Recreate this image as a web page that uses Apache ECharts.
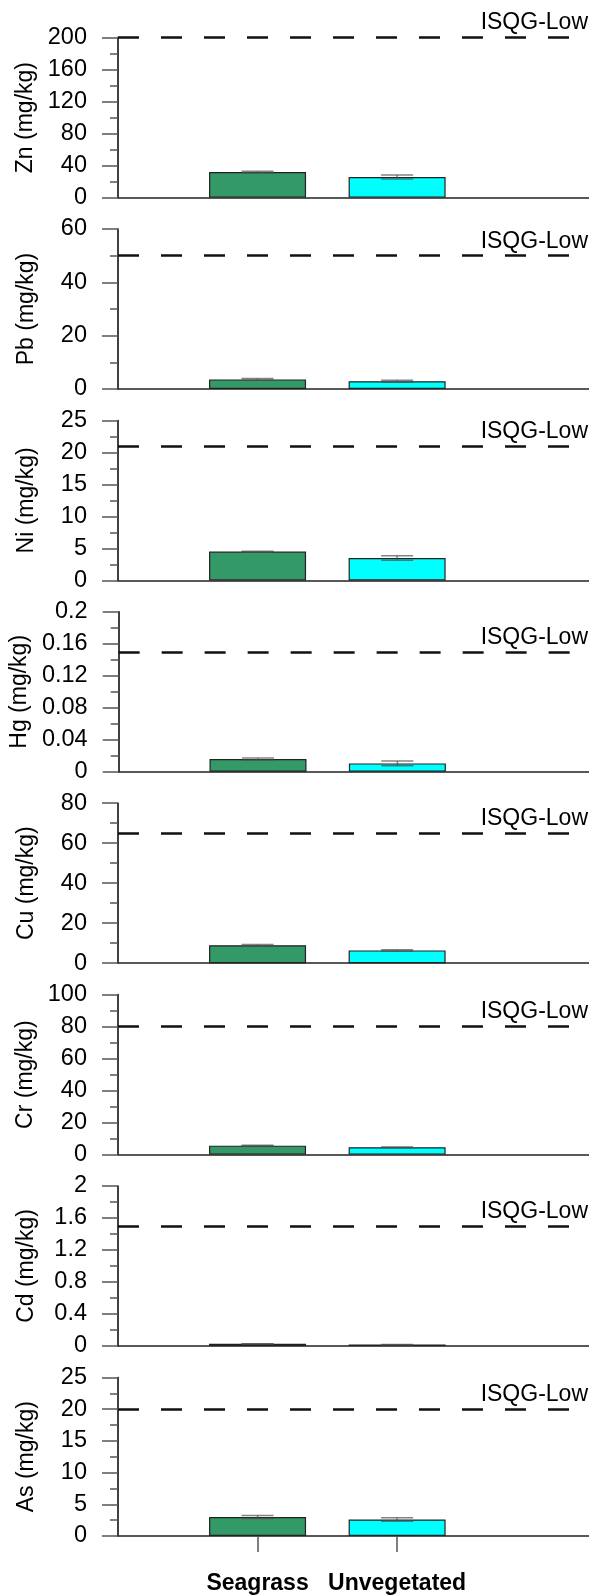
<!DOCTYPE html>
<html>
<head>
<meta charset="utf-8">
<script src="https://cdn.jsdelivr.net/npm/echarts@6/dist/echarts.min.js"></script>
<style>
  html, body { margin: 0; padding: 0; background: #fff; }
  #chart { width: 589px; height: 1595px; }
</style>
</head>
<body>
<div id="chart"></div>
<script>
// heavy metal concentrations, one panel per metal
var metals = ['Zn', 'Pb', 'Ni', 'Hg', 'Cu', 'Cr', 'Cd', 'As'];
var categories = ['Seagrass', 'Unvegetated'];
var seagrass = [32, 3.6, 4.5, 0.016, 9, 5.6, 0.027, 3.0];
var unvegetated = [25.7, 2.9, 3.5, 0.0105, 6.4, 4.6, 0.018, 2.6];
var seagrassErr = [0.8, 0.35, 0.05, 0.0012, 0.3, 0.2, 0.002, 0.25];
var unvegetatedErr = [2.4, 0.35, 0.36, 0.003, 0.3, 0.2, 0.002, 0.27];
var isqgLow = [200, 50, 21, 0.15, 65, 80, 1.5, 20];
var axisMax = [200, 60, 25, 0.2, 80, 100, 2, 25];
var axisStep = [40, 20, 5, 0.04, 20, 20, 0.4, 5];

var barColors = ['#339966', '#00ffff'];
var font = "'Liberation Sans', Arial, sans-serif";
var tickStyle = { color: '#555', width: 1.5 };

var chart = echarts.init(document.getElementById('chart'));

var grids = [], xAxes = [], yAxes = [], series = [];
metals.forEach(function (m, i) {
    var last = i === metals.length - 1;
    grids.push({ left: 118, right: 0, top: 37.6 + i * 191.4, height: 160 });
    xAxes.push({
        gridIndex: i,
        type: 'value',
        min: 0,
        max: 3.375,
        splitLine: { show: false },
        axisLine: { show: true, onZero: false, lineStyle: { color: '#222', width: 1.5 } },
        axisTick: { show: last, customValues: [1, 2], length: 16, lineStyle: tickStyle },
        axisLabel: {
            show: last,
            customValues: [1, 2],
            formatter: function (v) { return categories[Math.round(v) - 1]; },
            margin: 36,
            color: '#000',
            fontFamily: font,
            fontSize: 23,
            fontWeight: 'bold'
        }
    });
    yAxes.push({
        gridIndex: i,
        type: 'value',
        min: 0,
        max: axisMax[i],
        interval: axisStep[i],
        name: m + ' (mg/kg)',
        nameLocation: 'middle',
        nameGap: 80,
        nameTextStyle: { fontFamily: font, fontSize: 23, color: '#000' },
        axisLine: { show: true, lineStyle: { color: '#000', width: 1.5 } },
        axisTick: { show: true, length: 16, lineStyle: tickStyle },
        minorTick: { show: true, splitNumber: 2, length: 8, lineStyle: tickStyle },
        splitLine: { show: false },
        axisLabel: { margin: 31, color: '#000', fontFamily: font, fontSize: 23.5 }
    });
    series.push({
        type: 'bar',
        xAxisIndex: i,
        yAxisIndex: i,
        barWidth: 97,
        silent: true,
        itemStyle: { borderColor: '#222', borderWidth: 1.2 },
        data: [
            { value: [1, seagrass[i]], itemStyle: { color: barColors[0] } },
            { value: [2, unvegetated[i]], itemStyle: { color: barColors[1] } }
        ],
        markLine: {
            silent: true,
            symbol: 'none',
            lineStyle: { color: '#111', width: 2.5, type: [21, 22] },
            label: {
                show: true,
                position: 'insideEndTop',
                formatter: 'ISQG-Low',
                distance: [1, 3],
                color: '#000',
                fontFamily: font,
                fontSize: 23
            },
            data: [{ yAxis: isqgLow[i] }]
        }
    });
    series.push({
        type: 'custom',
        xAxisIndex: i,
        yAxisIndex: i,
        silent: true,
        z: 5,
        data: [[1, seagrass[i], seagrassErr[i]], [2, unvegetated[i], unvegetatedErr[i]]],
        renderItem: function (params, api) {
            var x = api.value(0), y = api.value(1), e = api.value(2);
            var hi = api.coord([x, y + e]);
            var lo = api.coord([x, y - e]);
            var w = 16;
            var st = { stroke: 'rgba(80,80,80,0.7)', lineWidth: 1.5 };
            return {
                type: 'group',
                children: [
                    { type: 'line', shape: { x1: hi[0], y1: hi[1], x2: lo[0], y2: lo[1] }, style: st },
                    { type: 'line', shape: { x1: hi[0] - w, y1: hi[1], x2: hi[0] + w, y2: hi[1] }, style: st },
                    { type: 'line', shape: { x1: lo[0] - w, y1: lo[1], x2: lo[0] + w, y2: lo[1] }, style: st }
                ]
            };
        }
    });
});

chart.setOption({
    animation: false,
    grid: grids,
    xAxis: xAxes,
    yAxis: yAxes,
    series: series
});
</script>
</body>
</html>
